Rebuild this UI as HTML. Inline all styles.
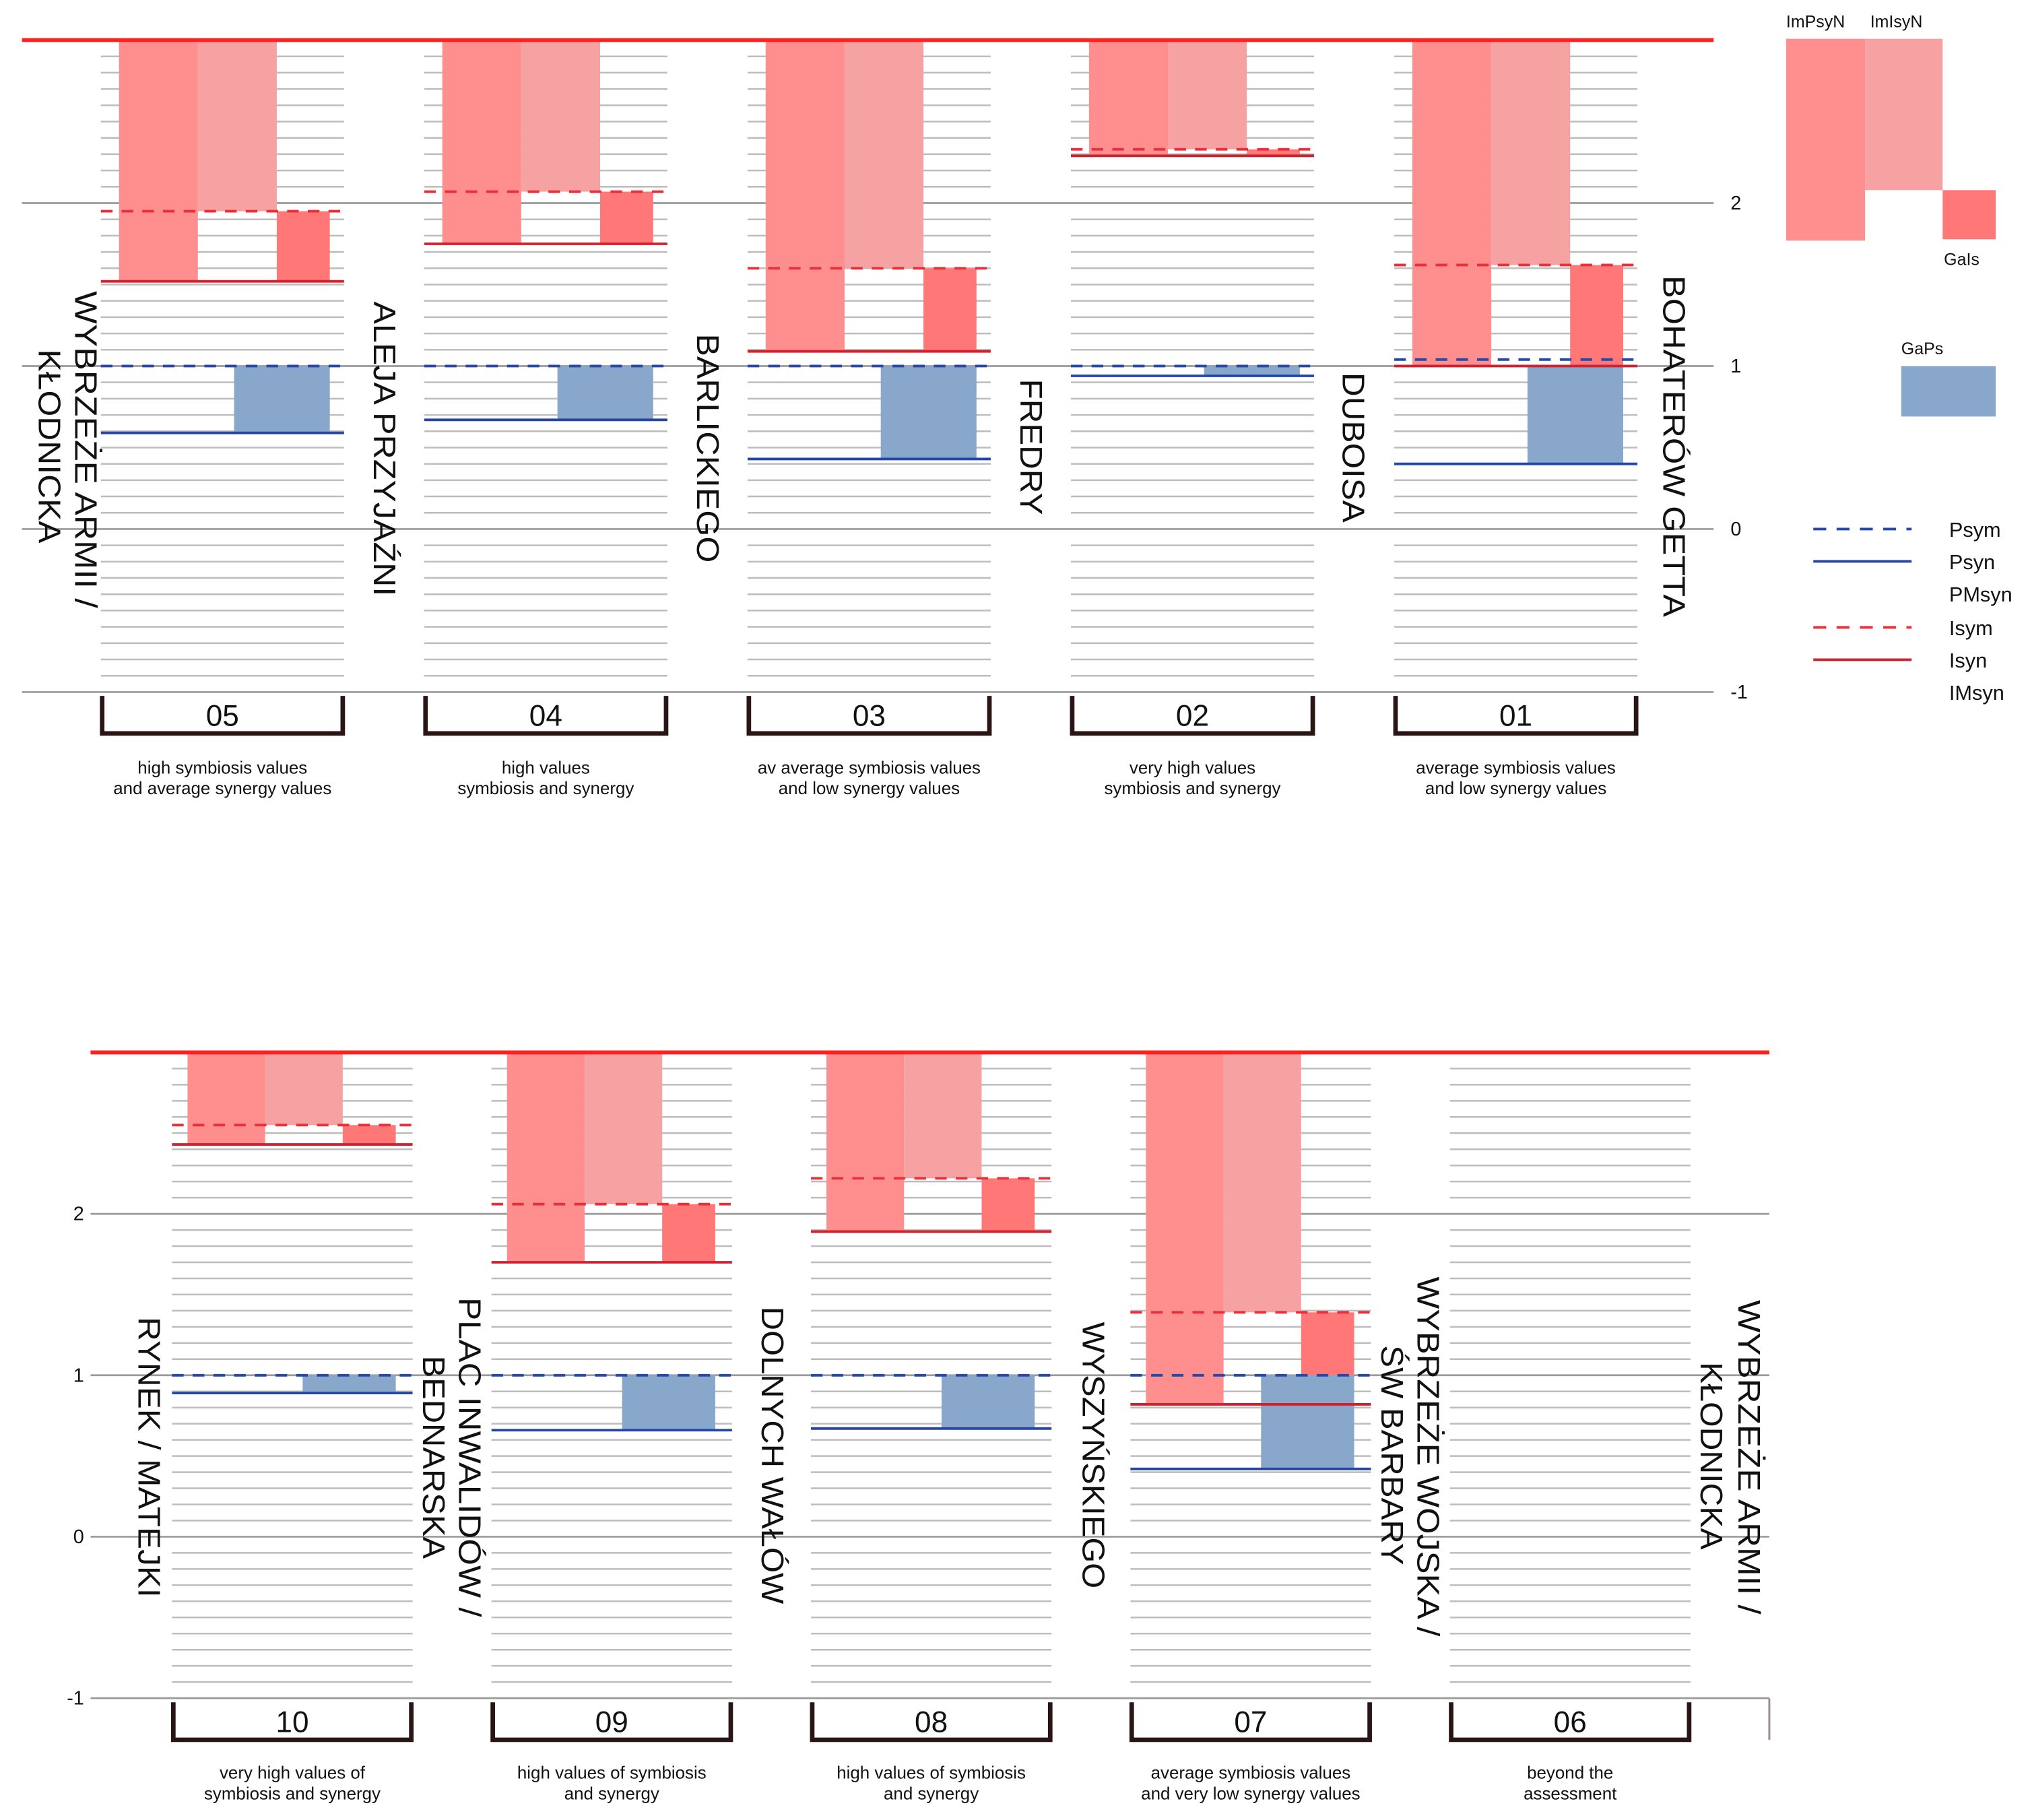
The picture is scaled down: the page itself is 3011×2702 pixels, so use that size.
<!DOCTYPE html>
<html><head><meta charset="utf-8"><style>
html,body{margin:0;padding:0;background:#fff;}
svg{display:block;}
text{font-family:"Liberation Sans",sans-serif;fill:#111;}
</style></head><body>
<svg id="chart" width="3011" height="2702" viewBox="0 0 1568 1407" preserveAspectRatio="none" xmlns="http://www.w3.org/2000/svg"></svg>
<script>
// ---- data ----
const topCodes = ["05","04","03","02","01"];
const topIsym = [1.95, 2.07, 1.60, 2.33, 1.62];
const topIsyn = [1.52, 1.75, 1.09, 2.29, 1.00];
const topPsym = [1.00, 1.00, 1.00, 1.00, 1.04];
const topPsyn = [0.59, 0.67, 0.43, 0.94, 0.40];
const topDesc1 = ["high symbiosis values","high values","av average symbiosis values","very high values","average symbiosis values"];
const topDesc2 = ["and average synergy values","symbiosis and synergy","and low synergy values","symbiosis and synergy","and low synergy values"];

const botCodes = ["10","09","08","07","06"];
const botIsym = [2.55, 2.06, 2.22, 1.39, null];
const botIsyn = [2.43, 1.70, 1.89, 0.82, null];
const botPsym = [1.00, 1.00, 1.00, 1.00, null];
const botPsyn = [0.89, 0.66, 0.67, 0.42, null];
const botDesc1 = ["very high values of","high values of symbiosis","high values of symbiosis","average symbiosis values","beyond the"];
const botDesc2 = ["symbiosis and synergy","and synergy","and synergy","and very low synergy values","assessment"];
const yTicks = [2, 1, 0, -1];
const yMax = 3;

const NS = "http://www.w3.org/2000/svg";
const svg = document.getElementById("chart");
function mk(tag, attrs, parent){
  const e = document.createElementNS(NS, tag);
  for (const k in attrs) e.setAttribute(k, attrs[k]);
  (parent||svg).appendChild(e);
  return e;
}

const C = {impsyn:"#ff8e8e", imisyn:"#f6a2a2", gais:"#ff7777", gaps:"#88a7cb",
  isym:"#e8303a", isyn:"#d2202e", psym:"#2848a8", psyn:"#2446a6"};

function drawPanel(cfg){
  const g = mk("g", {});
  
  
  const Y = v => cfg.y0 - v * cfg.unit;
  for (let i = 0; i < cfg.codes.length; i++){
    const gx = cfg.gx0 + i * cfg.period;
    for (let k = -9; k <= 29; k++){
      if (k % 10 === 0) continue;
      const l = mk("line", {x1:gx, x2:gx+cfg.gw, y1:Y(k/10), y2:Y(k/10), stroke:"#bdbdbd", "stroke-width":1.3}, g);
      
      
    }
  }
  yTicks.forEach(t => {
    const l = mk("line", {x1:cfg.lx1, x2:cfg.lx2, y1:Y(t), y2:Y(t), stroke:"#9a9a9a", "stroke-width":1.4}, g);
    
    
    const tx = mk("text", {x:cfg.tickX, y:Y(t)+5, "font-size":15, "text-anchor":cfg.tickAnchor}, g);
    tx.textContent = String(t);
    
    
  });
  for (let i = 0; i < cfg.codes.length; i++){
    const gx = cfg.gx0 + i * cfg.period;
    const isym = cfg.isym[i], isyn = cfg.isyn[i], psym = cfg.psym[i], psyn = cfg.psyn[i];
    if (isym !== null){
      const o = cfg.off;
      const r1 = mk("rect", {x:gx+o[0], y:Y(yMax), width:o[1]-o[0], height:Y(isyn)-Y(yMax), fill:C.impsyn}, g);
      
      
      const r2 = mk("rect", {x:gx+o[1], y:Y(yMax), width:o[2]-o[1], height:Y(isym)-Y(yMax), fill:C.imisyn}, g);
      
      
      const gb = Math.max(isyn, 1);
      if (isym > gb){
        const r3 = mk("rect", {x:gx+o[2], y:Y(isym), width:o[3]-o[2], height:Y(gb)-Y(isym), fill:C.gais}, g);
        
        
      }
      if (psyn < 1){
        const r4 = mk("rect", {x:gx+cfg.gapsOff, y:Y(1), width:o[3]-cfg.gapsOff, height:Y(psyn)-Y(1), fill:C.gaps}, g);
        
        
      }
      const lines = [[isym, C.isym, true, 'isym'], [isyn, C.isyn, false, 'isyn'], [psym, C.psym, true, 'psym'], [psyn, C.psyn, false, 'psyn']];
      lines.forEach(L => {
        const a = {x1:gx, x2:gx+cfg.gw, y1:Y(L[0]), y2:Y(L[0]), stroke:L[1], "stroke-width":2};
        if (L[2]) a["stroke-dasharray"] = "9 7";
        const ln = mk("line", a, g);
        
        
      });
    }
    const by = cfg.bracketY;
    const br = mk("path", {d:`M${gx+1},${by} V${by+29} H${gx+cfg.gw-1} V${by}`, fill:"none", stroke:"#2a1414", "stroke-width":3.5}, g);
    
    
    const cx = gx + cfg.gw/2;
    const num = mk("text", {x:cx, y:by+23, "font-size":23, "text-anchor":"middle"}, g);
    num.textContent = cfg.codes[i];
    
    
    const d1 = mk("text", {x:cx, y:cfg.descY, "font-size":13.5, "text-anchor":"middle"}, g);
    d1.textContent = cfg.desc1[i];
    
    
    const d2 = mk("text", {x:cx, y:cfg.descY+16, "font-size":13.5, "text-anchor":"middle"}, g);
    d2.textContent = cfg.desc2[i];
    
    
  }
  const tl = mk("line", {x1:cfg.lx1, x2:cfg.lx2, y1:Y(yMax), y2:Y(yMax), stroke:"#ff2020", "stroke-width":3}, g);
  
  
  return Y;
}

drawPanel({name:"top-panel", codes:topCodes, isym:topIsym, isyn:topIsyn, psym:topPsym, psyn:topPsyn,
  desc1:topDesc1, desc2:topDesc2, y0:409, unit:126, gx0:78, period:250, gw:188,
  off:[14,75,136,177], gapsOff:103, lx1:17, lx2:1325, tickX:1338, tickAnchor:"start",
  bracketY:538, descY:598});
drawPanel({name:"bottom-panel", codes:botCodes, isym:botIsym, isyn:botIsyn, psym:botPsym, psyn:botPsyn,
  desc1:botDesc1, desc2:botDesc2, y0:1188, unit:124.8, gx0:133, period:247, gw:186,
  off:[12,72,132,173], gapsOff:101, lx1:70, lx2:1368, tickX:65, tickAnchor:"end",
  bracketY:1316, descY:1375});

mk("line", {x1:1368, x2:1368, y1:1313, y2:1345, stroke:"#9a8a8a", "stroke-width":1.5,  });

// street labels: each line [x, topY, length, text]
const streets = [
  [[58,225,245,"WYBRZEŻE ARMII  /"],[30,270,150,"KŁODNICKA"]],
  [[289,233,228,"ALEJA PRZYJAŹNI"]],
  [[539,258,177,"BARLICKIEGO"]],
  [[789,293,105,"FREDRY"]],
  [[1038,288,116,"DUBOISA"]],
  [[1286,213,264,"BOHATERÓW GETTA"]],
  [[107,1018,217,"RYNEK / MATEJKI"]],
  [[355,1003,247,"PLAC INWALIDÓW  /"],[327,1048,157,"BEDNARSKA"]],
  [[589,1010,230,"DOLNYCH WAŁÓW"]],
  [[837,1022,206,"WYSZYŃSKIEGO"]],
  [[1096,987,278,"WYBRZEŻE WOJSKA  /"],[1068,1040,170,"ŚW BARBARY"]],
  [[1344,1005,243,"WYBRZEŻE ARMII  /"],[1315,1053,145,"KŁODNICKA"]]
];
streets.forEach(s => {
  s.forEach(L => {
    const x = L[0], y = L[1];
    const tx = mk("text", {x:x, y:y, transform:`rotate(90 ${x} ${y})`, "font-size":24, textLength:L[2], lengthAdjust:"spacingAndGlyphs"});
    tx.textContent = L[3];
    
    
  });
});

// legend
const lg = mk("g", {});


[[1381,30,61,156,C.impsyn,'legend-impsyn'],[1442,30,60,117,C.imisyn,'legend-imisyn'],[1502,147,41,38,C.gais,'legend-gais'],[1470,283,73,39,C.gaps,'legend-gaps']].forEach(r => {
  const e = mk("rect", {x:r[0], y:r[1], width:r[2], height:r[3], fill:r[4]}, lg);
  
  
});
[["ImPsyN",1381,21],["ImIsyN",1446,21],["GaIs",1503,205],["GaPs",1470,274]].forEach(t => {
  const e = mk("text", {x:t[1], y:t[2], "font-size":13}, lg);
  e.textContent = t[0];
  
  
});
[[409,C.psym,true,"Psym"],[434,C.psyn,false,"Psyn"],[459,null,false,"PMsyn"],[485,C.isym,true,"Isym"],[510,C.isyn,false,"Isyn"],[535,null,false,"IMsyn"]].forEach(L => {
  if (L[1]){
    const a = {x1:1402, x2:1478, y1:L[0], y2:L[0], stroke:L[1], "stroke-width":2};
    if (L[2]) a["stroke-dasharray"] = "10 8";
    const ln = mk("line", a, lg);
    
    
  }
  const e = mk("text", {x:1507, y:L[0]+6, "font-size":16}, lg);
  e.textContent = L[3];
  
  
});
</script>
</body></html>
